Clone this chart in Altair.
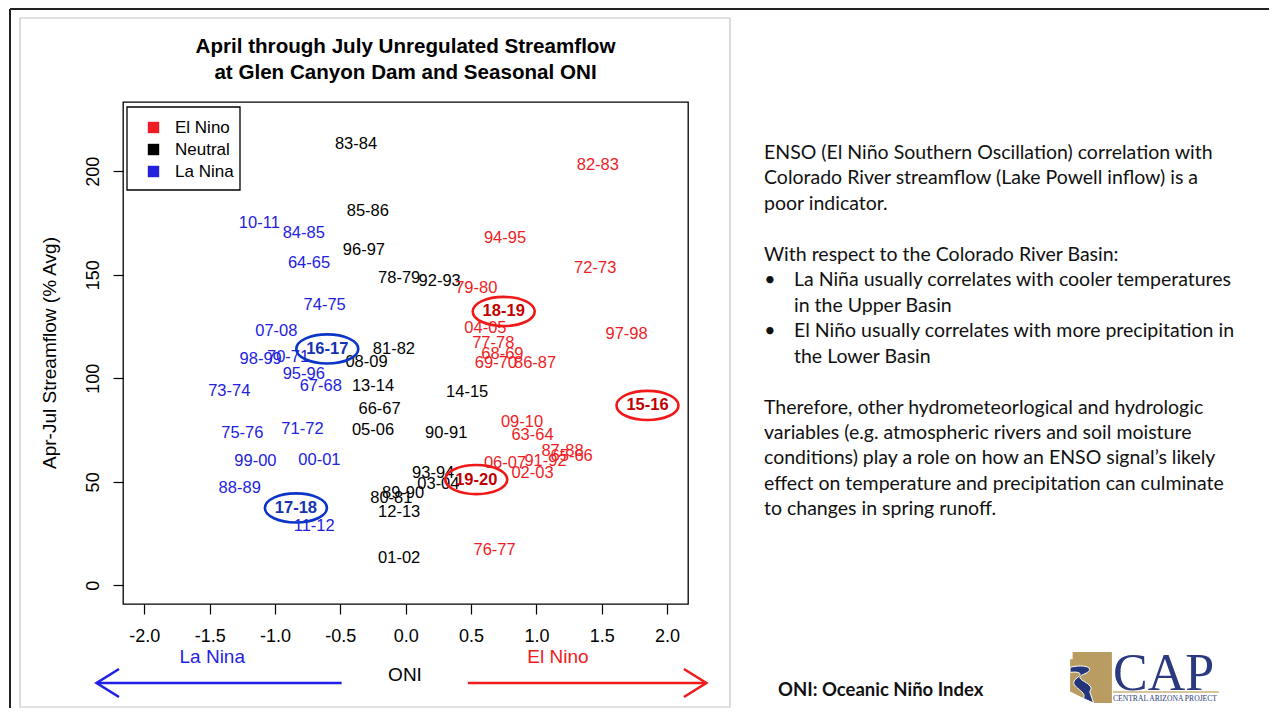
import altair as alt
import pandas as pd

# ---------------- data ----------------
neutral_seasons = ["83-84", "85-86", "96-97", "78-79", "92-93", "81-82", "08-09", "13-14", "14-15",
                   "66-67", "05-06", "90-91", "93-94", "03-04", "89-90", "80-81", "12-13", "01-02"]
neutral_oni = [-0.38, -0.29, -0.32, -0.05, 0.26, -0.09, -0.30, -0.25, 0.47,
               -0.20, -0.25, 0.31, 0.21, 0.25, -0.02, -0.11, -0.05, -0.05]
neutral_flow = [213.4, 180.7, 162.0, 148.5, 146.8, 114.2, 107.7, 96.4, 93.5,
                85.1, 75.0, 73.7, 54.4, 49.0, 44.7, 42.3, 35.5, 13.2]

lanina_seasons = ["10-11", "84-85", "64-65", "74-75", "07-08", "16-17", "70-71", "98-99", "95-96",
                  "67-68", "73-74", "75-76", "71-72", "99-00", "00-01", "88-89", "17-18", "11-12"]
lanina_oni = [-1.12, -0.78, -0.74, -0.62, -0.99, -0.60, -0.90, -1.11, -0.78,
              -0.65, -1.35, -1.25, -0.79, -1.15, -0.66, -1.27, -0.84, -0.70]
lanina_flow = [174.9, 170.1, 155.5, 135.2, 123.1, 114.2, 110.2, 109.4, 102.1,
               96.4, 94.0, 73.4, 75.5, 60.1, 60.6, 47.1, 37.4, 28.5]

elnino_seasons = ["82-83", "94-95", "72-73", "79-80", "18-19", "04-05", "97-98", "77-78", "68-69",
                  "69-70", "86-87", "15-16", "09-10", "63-64", "87-88", "65-66", "91-92", "06-07",
                  "02-03", "19-20", "76-77"]
elnino_oni = [1.47, 0.76, 1.45, 0.54, 0.75, 0.61, 1.69, 0.67, 0.74,
              0.69, 0.99, 1.85, 0.89, 0.97, 1.20, 1.27, 1.07, 0.76,
              0.97, 0.54, 0.68]
elnino_flow = [202.9, 167.8, 153.2, 143.5, 132.3, 124.5, 121.6, 117.3, 111.9,
               107.6, 107.6, 86.9, 78.8, 72.5, 64.8, 62.4, 60.3, 59.2,
               54.4, 51.1, 17.3]

highlighted = ["16-17", "17-18", "18-19", "19-20", "15-16"]

phase_names = ["El Nino", "Neutral", "La Nina"]
x_ticks = [-2.0, -1.5, -1.0, -0.5, 0.0, 0.5, 1.0, 1.5, 2.0]
y_ticks = [0, 50, 100, 150, 200]

arrow_labels = ["La Nina", "El Nino"]
arrow_label_oni = [-1.48, 1.165]
arrow_start = [-0.49, 0.475]
arrow_tip = [-2.365, 2.30]

title_lines = ["April through July Unregulated Streamflow", "at Glen Canyon Dam and Seasonal ONI"]
y_title = "Apr-Jul Streamflow (% Avg)"

panel_lines = [
    ("p", "ENSO (El Niño Southern Oscillation) correlation with"),
    ("p", "Colorado River streamflow (Lake Powell inflow) is a"),
    ("p", "poor indicator."),
    ("p", ""),
    ("p", "With respect to the Colorado River Basin:"),
    ("b", "La Niña usually correlates with cooler temperatures"),
    ("i", "in the Upper Basin"),
    ("b", "El Niño usually correlates with more precipitation in"),
    ("i", "the Lower Basin"),
    ("p", ""),
    ("p", "Therefore, other hydrometeorlogical and hydrologic"),
    ("p", "variables (e.g. atmospheric rivers and soil moisture"),
    ("p", "conditions) play a role on how an ENSO signal’s likely"),
    ("p", "effect on temperature and precipitation can culminate"),
    ("p", "to changes in spring runoff."),
]
footnote = "ONI: Oceanic Niño Index"

# ---------------- styling ----------------
FONT = "Liberation Sans"
SLIDE_FONT = "Lato"
phase_colors = ["#ee1d25", "#000000", "#2222dd"]
hl_text_color = {"La Nina": "#1533b0", "El Nino": "#c00000"}
ring_color = {"La Nina": "#0b35c6", "El Nino": "#f01818"}
arrow_color = ["#1f1fe6", "#ee1c1c"]

rows = []
for phase, seasons, onis, flows in [("Neutral", neutral_seasons, neutral_oni, neutral_flow),
                                    ("La Nina", lanina_seasons, lanina_oni, lanina_flow),
                                    ("El Nino", elnino_seasons, elnino_oni, elnino_flow)]:
    for s, o, f in zip(seasons, onis, flows):
        rows.append({"season": s, "oni": o, "flow": f, "phase": phase,
                     "hl": s in highlighted})
df = pd.DataFrame(rows)
df_reg = df[~df["hl"]]
df_hl = df[df["hl"]].copy()
df_hl["tcol"] = df_hl["phase"].map(hl_text_color)
df_hl["rcol"] = df_hl["phase"].map(ring_color)

xs = alt.Scale(domain=[-2.163, 2.16], nice=False, zero=False)
ys = alt.Scale(domain=[-9.0, 233.5], nice=False, zero=False)

xaxis = alt.Axis(values=x_ticks, domain=False, grid=False, tickSize=10, tickColor="black",
                 tickWidth=1.2, labelFont=FONT, labelFontSize=18, labelColor="black",
                 labelPadding=13, title=None, labelFlush=False, labelOverlap=False,
                 labelExpr="datum.value < 0 ? '-' + format(-datum.value, '.1f') : format(datum.value, '.1f')")
yaxis = alt.Axis(values=y_ticks, domain=False, grid=False, tickSize=10, tickColor="black",
                 tickWidth=1.2, labelFont=FONT, labelFontSize=18, labelColor="black",
                 labelAngle=270, labelAlign="center", labelBaseline="bottom",
                 labelPadding=11, title=None, labelFlush=False, labelOverlap=False)
X = alt.X("oni:Q", scale=xs, axis=xaxis)
Y = alt.Y("flow:Q", scale=ys, axis=yaxis)

one = pd.DataFrame({"t": [""]})


def text_at(text, x, y, **kw):
    return alt.Chart(pd.DataFrame({"t": [text]})).mark_text(**kw).encode(
        text="t:N", x=alt.value(x), y=alt.value(y))


layers = []

# slide frame and picture frame
layers.append(alt.Chart(one).mark_rule(color="#222222", strokeWidth=2).encode(
    x=alt.value(-113), x2=alt.value(1146), y=alt.value(-93)))
layers.append(alt.Chart(one).mark_rule(color="#222222", strokeWidth=2).encode(
    x=alt.value(-113), y=alt.value(-93), y2=alt.value(612)))
layers.append(alt.Chart(one).mark_rect(fillOpacity=0, stroke="#c4c4c4", strokeWidth=1.2).encode(
    x=alt.value(-103), x2=alt.value(607), y=alt.value(-84), y2=alt.value(605)))

# legend box
layers.append(alt.Chart(one).mark_rect(fill="white", stroke="black", strokeWidth=1.3).encode(
    x=alt.value(4), x2=alt.value(117), y=alt.value(5), y2=alt.value(88)))

# regular season labels
layers.append(alt.Chart(df_reg).mark_text(font=FONT, fontSize=16.5, align="center", baseline="middle").encode(
    x=X, y=Y, text="season:N",
    color=alt.Color("phase:N", scale=alt.Scale(domain=phase_names, range=phase_colors),
                    legend=alt.Legend(title=None, orient="none", legendX=22, legendY=17,
                                      symbolType="square", symbolSize=130, symbolStrokeWidth=0,
                                      symbolOpacity=1, labelFont=FONT, labelFontSize=17,
                                      labelColor="black", rowPadding=4, labelOffset=13,
                                      padding=0))))

# highlighted (circled) season labels
layers.append(alt.Chart(df_hl).mark_text(font=FONT, fontSize=16.5, fontWeight="bold",
                                         align="center", baseline="middle").encode(
    x=X, y=Y, text="season:N", color=alt.Color("tcol:N", scale=None)))

ellipse = ("M 1 0 C 1 0.2596 0.5523 0.47 0 0.47 C -0.5523 0.47 -1 0.2596 -1 0 "
           "C -1 -0.2596 -0.5523 -0.47 0 -0.47 C 0.5523 -0.47 1 -0.2596 1 0 Z")
layers.append(alt.Chart(df_hl).mark_point(shape=ellipse, size=3844, filled=False, strokeWidth=2.6,
                                          opacity=1).encode(
    x=X, y=Y, color=alt.Color("rcol:N", scale=None)))

# title
for i, line in enumerate(title_lines):
    layers.append(text_at(line, 282.5, -55 + 26 * i, font=FONT, fontSize=20.6, fontWeight="bold",
                          align="center", baseline="middle", color="black"))

# y axis title
layers.append(text_at(y_title, -73, 251, font=FONT, fontSize=19, angle=270, align="center",
                      baseline="middle", color="black"))
# x axis title
layers.append(text_at("ONI", 282, 573, font=FONT, fontSize=19, align="center",
                      baseline="middle", color="black"))

# La Nina / El Nino arrows and labels
arr = pd.DataFrame({"lab": arrow_labels, "oni": arrow_label_oni, "x0": arrow_start,
                    "x1": arrow_tip, "col": arrow_color})
layers.append(alt.Chart(arr).mark_text(font=FONT, fontSize=19, align="center", baseline="middle").encode(
    x=X, y=alt.value(555), text="lab:N", color=alt.Color("col:N", scale=None)))
layers.append(alt.Chart(arr).mark_rule(strokeWidth=2.6).encode(
    x=alt.X("x0:Q", scale=xs, axis=xaxis), x2="x1:Q", y=alt.value(581),
    color=alt.Color("col:N", scale=None)))
layers.append(alt.Chart(arr.iloc[[0]]).mark_point(shape="M 1.6 -1 L 0 0 L 1.6 1", size=784, filled=False,
                                                  strokeWidth=2.6, opacity=1).encode(
    x=alt.X("x1:Q", scale=xs, axis=xaxis), y=alt.value(581), color=alt.Color("col:N", scale=None)))
layers.append(alt.Chart(arr.iloc[[1]]).mark_point(shape="M -1.6 -1 L 0 0 L -1.6 1", size=784, filled=False,
                                                  strokeWidth=2.6, opacity=1).encode(
    x=alt.X("x1:Q", scale=xs, axis=xaxis), y=alt.value(581), color=alt.Color("col:N", scale=None)))

# right-hand slide text
for i, (kind, line) in enumerate(panel_lines):
    if not line:
        continue
    yy = 51 + 25.45 * i
    if kind == "p":
        layers.append(text_at(line, 641, yy, font=SLIDE_FONT, fontSize=19.5, align="left",
                              baseline="middle", color="#111111"))
    else:
        if kind == "b":
            layers.append(text_at("•", 647, yy, font=SLIDE_FONT, fontSize=19.5, align="center",
                                  baseline="middle", color="#111111"))
        layers.append(text_at(line, 671, yy, font=SLIDE_FONT, fontSize=19.5, align="left",
                              baseline="middle", color="#111111"))

layers.append(text_at(footnote, 655, 588, font=SLIDE_FONT, fontSize=18.5, fontWeight="bold",
                      align="left", baseline="middle", color="#111111"))

# CAP logo (approximation)
az_shape = "M -0.72 -1 L 0.82 -1 L 0.82 1 L 0.1 1 L -0.82 0.55 L -0.82 -0.72 L -0.72 -0.72 Z"
swoosh = ("M -0.82 -0.4 C -0.2 -0.55 0.25 -0.35 -0.3 -0.12 C -0.8 0.08 0.25 0.22 -0.05 0.55 "
          "L 0.1 1 L -0.3 0.82 C -0.1 0.5 -1.0 0.35 -0.55 0.02 C -0.3 -0.15 -0.45 -0.25 -0.82 -0.2 Z")
layers.append(alt.Chart(one).mark_point(shape=az_shape, size=2601, filled=True, fill="#b89c62",
                                        strokeWidth=0, opacity=1).encode(
    x=alt.value(968), y=alt.value(575.5)))
layers.append(alt.Chart(one).mark_point(shape=swoosh, size=2601, filled=True, fill="#25357a",
                                        stroke="white", strokeWidth=1, opacity=1).encode(
    x=alt.value(968), y=alt.value(575.5)))
layers.append(text_at("CAP", 990, 588, font="Liberation Serif", fontSize=52, align="left",
                      baseline="alphabetic", color="#2b3a7e"))
layers.append(alt.Chart(one).mark_rule(color="#c9b27c", strokeWidth=1.5).encode(
    x=alt.value(990), x2=alt.value(1096), y=alt.value(590)))
layers.append(text_at("CENTRAL ARIZONA PROJECT", 990, 597, font="Liberation Serif", fontSize=7.6,
                      align="left", baseline="middle", color="#2b3a7e"))

chart = alt.layer(*layers).properties(
    width=565, height=502,
    autosize=alt.AutoSizeParams(type="none"),
    padding={"left": 115, "top": 94, "right": 581, "bottom": 104},
    background="white",
).configure_view(stroke="black", strokeWidth=1.3).configure_axis(grid=False)

chart.save("out.html", embed_options={"renderer": "svg", "actions": False})
